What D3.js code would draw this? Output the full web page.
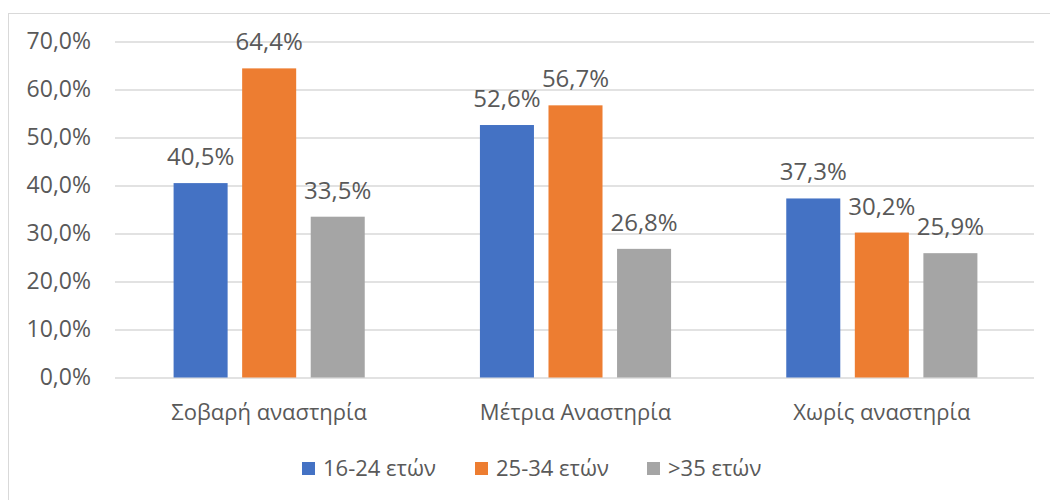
<!DOCTYPE html>
<html>
<head>
<meta charset="utf-8">
<script src="https://cdn.jsdelivr.net/npm/d3@7"></script>
<style>
  body { margin: 0; background: #fff; }
  text { font-family: "Open Sans", sans-serif; fill: #595959; }
</style>
</head>
<body>
<svg width="1050" height="500"></svg>
<script>
var categories = ["Σοβαρή αναστηρία", "Μέτρια Αναστηρία", "Χωρίς αναστηρία"];
var seriesNames = ["16-24 ετών", "25-34 ετών", ">35 ετών"];
var seriesColors = ["#4472C4", "#ED7D31", "#A5A5A5"];
var values16_24 = [40.5, 52.6, 37.3];
var values25_34 = [64.4, 56.7, 30.2];
var values35 = [33.5, 26.8, 25.9];
var yTicks = [0, 10, 20, 30, 40, 50, 60, 70];

var series = [values16_24, values25_34, values35];

var svg = d3.select("svg");

// chart frame
svg.append("rect")
    .attr("x", 8.5).attr("y", 13.5)
    .attr("width", 1050).attr("height", 500)
    .attr("fill", "none")
    .attr("stroke", "#D9D9D9");

var x0 = d3.scaleBand()
    .domain(categories)
    .range([116, 1035])
    .paddingInner(0.376)
    .paddingOuter(0.188);

var x1 = d3.scaleBand()
    .domain(d3.range(seriesNames.length))
    .range([0, x0.bandwidth()])
    .paddingInner(0.212);

var y = d3.scaleLinear()
    .domain([0, 70])
    .range([377.5, 41.5]);

var fmt = function(v) { return d3.format(".1f")(v).replace(".", ","); };

// gridlines + tick labels
var yAxis = svg.append("g")
    .attr("transform", "translate(115,0)")
    .call(d3.axisLeft(y).tickValues(yTicks)
        .tickSize(-919)
        .tickPadding(24)
        .tickFormat(function(d) { return fmt(d) + "%"; }));
yAxis.select(".domain").remove();
yAxis.selectAll(".tick line").attr("stroke", "#D9D9D9").attr("stroke-width", 1.5);
yAxis.selectAll(".tick text")
    .style("font-family", "'Open Sans', sans-serif")
    .style("font-size", "23px")
    .attr("fill", "#595959");

// bars
var groups = svg.append("g").selectAll("g")
    .data(categories)
    .enter().append("g")
    .attr("transform", function(d) { return "translate(" + x0(d) + ",0)"; });

groups.selectAll("rect")
    .data(function(d, i) { return series.map(function(s, k) { return {k: k, v: s[i]}; }); })
    .enter().append("rect")
    .attr("x", function(d) { return x1(d.k); })
    .attr("y", function(d) { return y(d.v); })
    .attr("width", x1.bandwidth())
    .attr("height", function(d) { return y(0) - y(d.v); })
    .attr("fill", function(d) { return seriesColors[d.k]; });

groups.selectAll("text.lbl")
    .data(function(d, i) { return series.map(function(s, k) { return {k: k, v: s[i]}; }); })
    .enter().append("text")
    .attr("class", "lbl")
    .attr("x", function(d) { return x1(d.k) + x1.bandwidth() / 2; })
    .attr("y", function(d) { return y(d.v) - 18; })
    .attr("text-anchor", "middle")
    .style("font-size", "24px")
    .text(function(d) { return fmt(d.v) + "%"; });

// category labels
svg.append("g").selectAll("text")
    .data(categories)
    .enter().append("text")
    .attr("x", function(d) { return x0(d) + x0.bandwidth() / 2; })
    .attr("y", 420)
    .attr("text-anchor", "middle")
    .style("font-size", "22px")
    .text(function(d) { return d; });

// legend
var legendX = [302, 475, 647];
var legend = svg.append("g").selectAll("g")
    .data(seriesNames)
    .enter().append("g")
    .attr("transform", function(d, i) { return "translate(" + legendX[i] + ",462)"; });
legend.append("rect")
    .attr("width", 13).attr("height", 13)
    .attr("fill", function(d, i) { return seriesColors[i]; });
legend.append("text")
    .attr("x", 21).attr("y", 14)
    .style("font-size", "22px")
    .text(function(d) { return d; });
</script>
</body>
</html>
